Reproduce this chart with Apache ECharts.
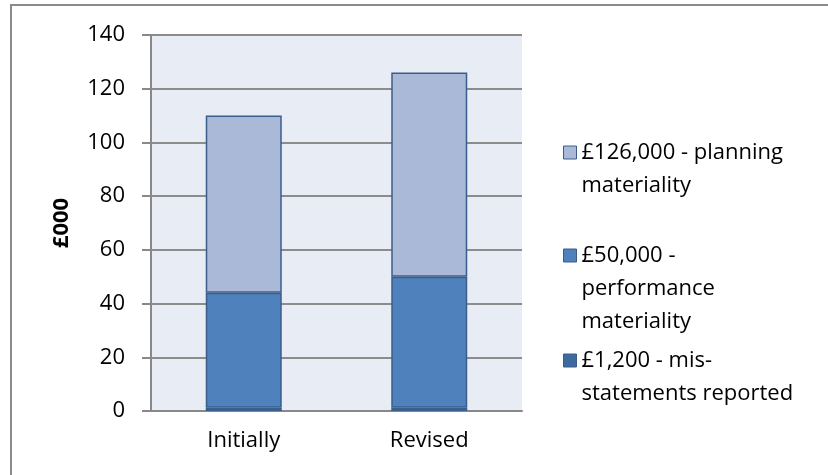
<!DOCTYPE html>
<html>
<head>
<meta charset="utf-8">
<script src="https://cdn.jsdelivr.net/npm/echarts@6/dist/echarts.min.js"></script>
<style>html,body{margin:0;padding:0;background:#fff}#c{width:828px;height:475px}</style>
</head>
<body>
<div id="c"></div>
<script>
const categories = ['Initially', 'Revised'];
const misstatements = [1.2, 1.2];
const performance = [42.8, 48.8];
const planning = [66, 76];
const seriesNames = ['£1,200 - mis-\nstatements reported', '£50,000 -\nperformance\nmateriality', '£126,000 - planning\nmateriality'];
const yTicks = [0, 20, 40, 60, 80, 100, 120, 140];

const FONT = '"Open Sans", "Noto Sans", sans-serif';
const FS = 22;
const LH = 33;
const colors = ['#3E6A9F', '#4F81BD', '#AAB9D7'];
const border = '#3A5E8C';

function legendFor(i, firstLineY) {
  const nLines = seriesNames[i].split('\n').length;
  const h = nLines * LH;
  const sq0 = LH / 2 - 6.5;
  const icon = 'path://M0,' + sq0 + 'H13V' + (sq0 + 13) + 'H0Z M0,0 M0,' + h;
  return {
    left: 563, top: firstLineY - LH / 2, orient: 'vertical', padding: 0,
    itemWidth: 13, itemHeight: h, icon: icon, symbolKeepAspect: true,
    data: [{ name: seriesNames[i], itemStyle: { color: colors[i], borderColor: border, borderWidth: 1 } }],
    textStyle: { fontFamily: FONT, fontSize: FS, color: '#000', lineHeight: LH },
    selectedMode: false
  };
}

const chart = echarts.init(document.getElementById('c'), null, { renderer: 'canvas' });
chart.setOption({
  animation: false,
  graphic: [{ type: 'rect', shape: { x: 11, y: 5, width: 900, height: 600 }, style: { fill: 'none', stroke: '#8a8a8a', lineWidth: 2 }, silent: true }],
  grid: { left: 151, right: 306, top: 35, bottom: 64, show: true, backgroundColor: '#E8ECF4', borderWidth: 0 },
  legend: [legendFor(2, 152), legendFor(1, 255), legendFor(0, 360)],
  xAxis: {
    type: 'category', data: categories,
    axisLine: { lineStyle: { color: '#888', width: 2 } },
    axisTick: { length: 8, lineStyle: { color: '#888', width: 2 } },
    axisLabel: { fontFamily: FONT, fontSize: FS, color: '#000', margin: 19 }
  },
  yAxis: {
    type: 'value', min: yTicks[0], max: yTicks[yTicks.length - 1], interval: 20,
    name: '£000', nameLocation: 'middle', nameGap: 78,
    nameTextStyle: { fontFamily: FONT, fontSize: FS, fontWeight: 'bold', color: '#000' },
    axisLine: { show: true, lineStyle: { color: '#888', width: 2 } },
    axisTick: { show: true, length: 9, lineStyle: { color: '#888', width: 2 } },
    axisLabel: { fontFamily: FONT, fontSize: FS, color: '#000', margin: 26 },
    splitLine: { lineStyle: { color: '#8c8c8c', width: 2 } }
  },
  series: [
    { name: seriesNames[0], type: 'bar', stack: 't', data: misstatements, barWidth: 76, itemStyle: { color: colors[0], borderColor: border, borderWidth: 1.5 } },
    { name: seriesNames[1], type: 'bar', stack: 't', data: performance, barWidth: 76, itemStyle: { color: colors[1], borderColor: border, borderWidth: 1.5 } },
    { name: seriesNames[2], type: 'bar', stack: 't', data: planning, barWidth: 76, itemStyle: { color: colors[2], borderColor: border, borderWidth: 1.5 } }
  ]
});
</script>
</body>
</html>
